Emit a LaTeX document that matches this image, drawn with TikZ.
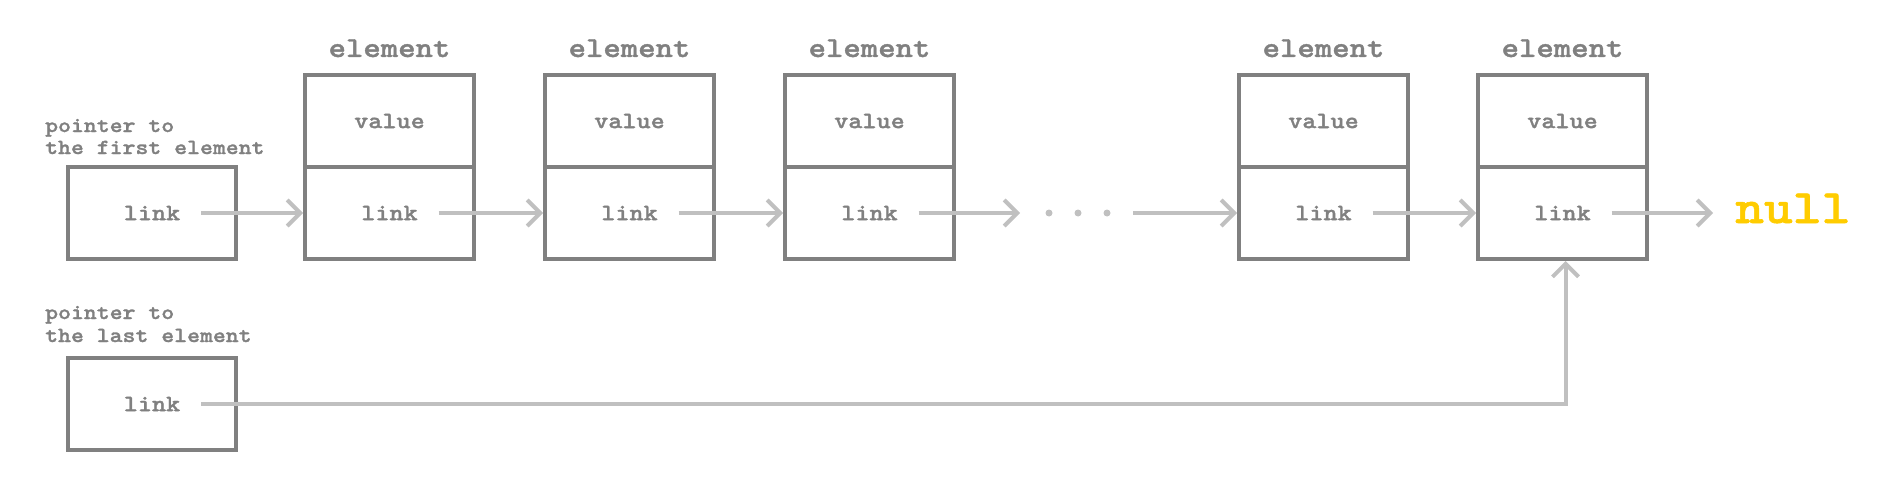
\documentclass[tikz,border=0pt]{standalone}
\usepackage{fontspec}
\newfontfamily\cour[Extension=.otf, UprightFont=lmmono10-regular, BoldFont=lmmonolt10-bold, BoldFeatures={FakeBold=1.3}, FakeStretch=1.1429]{lmmono10-regular}
\usetikzlibrary{arrows.meta}
\definecolor{boxgray}{HTML}{808080}
\definecolor{arrgray}{HTML}{C0C0C0}
\definecolor{nullgold}{HTML}{FFCC00}
\begin{document}
\begin{tikzpicture}[x=1pt,y=-1pt,
  cell/.style={draw=boxgray, line width=4pt, minimum width=169pt, minimum height=92pt, inner sep=0pt, text=boxgray, font=\cour\bfseries\fontsize{23.5}{23.5}\selectfont},
  ptrbox/.style={cell, minimum width=168pt},
  lbl/.style={inner sep=0pt, text=boxgray, font=\cour\bfseries\fontsize{29}{29}\selectfont, anchor=base},
  ptrtxt/.style={inner sep=0pt, text=boxgray, font=\cour\bfseries\fontsize{21.5}{23}\selectfont, anchor=base west},
  conn/.style={draw=arrgray, line width=4pt, -{Straight Barb[length=13pt,width=26pt]}},
  dotc/.style={circle, fill=arrgray, inner sep=0pt, minimum size=7pt}
]
\useasboundingbox (0,0) rectangle (1897,492);

% pointer texts
\node[ptrtxt] (t1a) at (45,132) {pointer to};
\node[ptrtxt] (t1b) at (45,154) {the first element};
\node[ptrtxt] (t2a) at (45,319) {pointer to};
\node[ptrtxt] (t2b) at (45,342) {the last element};

% pointer boxes
\node[ptrbox] (p1) at (152,213) {link};
\node[ptrbox] (p2) at (152,404) {link};

% elements
\foreach \i/\cx in {1/389.5, 2/629.5, 3/869.5, 4/1323.5, 5/1562.5} {
  \node[cell] (v\i) at (\cx,121) {value};
  \node[cell] (l\i) at (\cx,213) {link};
  \node[lbl] (e\i) at (\cx,57) {element};
}

% dots
\node[dotc] (d1) at (1049,213) {};
\node[dotc] (d2) at (1078,213) {};
\node[dotc] (d3) at (1107,213) {};
\coordinate (dend) at (1020,213);
\coordinate (dstart) at (1133,213);

% null
\node[inner sep=0pt, anchor=base west, text=nullgold, font=\cour\bfseries\fontsize{48}{48}\selectfont] (nul) at (1735,223) {null};
\coordinate (nulltip) at (1713,213);

% connectors
\draw[conn] ([xshift=49pt]p1.center) -- (l1.west);
\draw[conn] ([xshift=49pt]l1.center) -- (l2.west);
\draw[conn] ([xshift=49pt]l2.center) -- (l3.west);
\draw[conn] ([xshift=49pt]l3.center) -- (dend);
\draw[conn] (dstart) -- (l4.west);
\draw[conn] ([xshift=49pt]l4.center) -- (l5.west);
\draw[conn] ([xshift=49pt]l5.center) -- (nulltip);
\draw[conn] ([xshift=49pt]p2.center) -| ([xshift=3pt]l5.south);
\end{tikzpicture}
\end{document}
